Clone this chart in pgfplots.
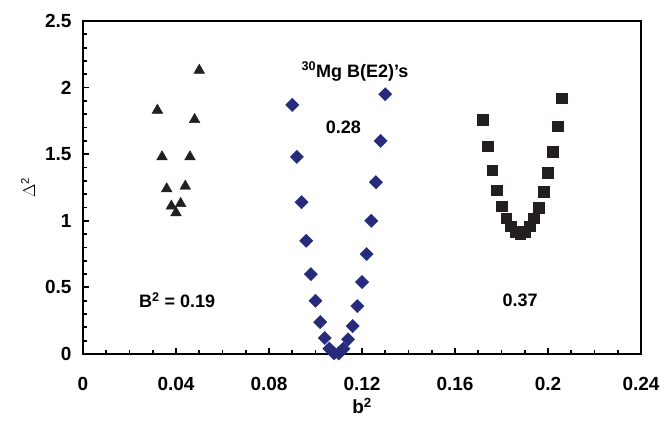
\documentclass[border=0pt]{standalone}
\usepackage{pgfplots}
\pgfplotsset{compat=1.18}
\usepackage{fontspec}
\setmainfont{Liberation Sans}
\definecolor{navy}{RGB}{39,43,124}
\definecolor{ink}{RGB}{35,31,32}
\begin{document}
\begin{tikzpicture}
\path[use as bounding box] (-83pt,-71pt) rectangle (581pt,354pt);
\begin{axis}[
    at={(0,0)}, anchor=south west,
    scale only axis,
    width=558pt, height=333pt,
    xmin=0, xmax=0.24, ymin=0, ymax=2.5,
    xtick={0,0.04,...,0.24},
    xticklabels={0,0.04,0.08,0.12,0.16,0.2,0.24},
    minor x tick num=3,
    ytick={0,0.5,...,2.5},
    yticklabels={0,0.5,1,1.5,2,2.5},
    minor y tick num=4,
    tick align=inside,
    xtick pos=bottom, ytick pos=left,
    major tick length=6pt, minor tick length=4pt,
    every tick/.style={black, line width=1.8pt},
    axis line style={line width=2.6pt, black},
    tick label style={font=\fontsize{19}{22}\selectfont\bfseries, black},
    xticklabel style={yshift=-20pt},
    yticklabel style={xshift=-8pt},
    xlabel={\textbf{b\textsuperscript{2}}},
    xlabel style={font=\fontsize{19}{22}\selectfont, yshift=0pt},
    ylabel={$\Delta$\textsuperscript{2}},
    ylabel style={font=\fontsize{16}{19}\selectfont, yshift=3pt},
    clip=false,
]
% triangles, B^2 = 0.19
\addplot[only marks, mark=triangle*, mark size=6.2pt, color=ink]
    coordinates {
        (0.032,1.83) (0.034,1.48) (0.036,1.24) (0.038,1.11) (0.040,1.06)
        (0.042,1.13) (0.044,1.26) (0.046,1.48) (0.048,1.76) (0.050,2.13)
    };
% diamonds, B^2 = 0.28
\addplot[only marks, mark=square*, mark size=4.7pt, color=navy, mark options={rotate=45}]
    coordinates {
        (0.090,1.87) (0.092,1.48) (0.094,1.14) (0.096,0.85) (0.098,0.60)
        (0.100,0.40) (0.102,0.24) (0.104,0.12) (0.106,0.04) (0.108,0.005)
        (0.110,0.005) (0.112,0.04) (0.114,0.11) (0.116,0.21) (0.118,0.36)
        (0.120,0.54) (0.122,0.75) (0.124,1.00) (0.126,1.29) (0.128,1.60)
        (0.130,1.95)
    };
% squares, B^2 = 0.37
\addplot[only marks, mark=square*, mark size=5.4pt, color=ink]
    coordinates {
        (0.172,1.76) (0.174,1.56) (0.176,1.38) (0.178,1.23) (0.180,1.11)
        (0.182,1.02) (0.184,0.96) (0.186,0.92) (0.188,0.90) (0.190,0.92)
        (0.192,0.96) (0.194,1.02) (0.196,1.10) (0.198,1.22) (0.200,1.36)
        (0.202,1.52) (0.204,1.71) (0.206,1.92)
    };
\node[font=\fontsize{18}{21}\selectfont\bfseries] at (axis cs:0.117,2.12) {\textsuperscript{30}Mg B(E2)'s};
\node[font=\fontsize{18}{21}\selectfont\bfseries] at (axis cs:0.112,1.70) {0.28};
\node[font=\fontsize{18}{21}\selectfont\bfseries] at (axis cs:0.0405,0.405) {B\textsuperscript{2} = 0.19};
\node[font=\fontsize{18}{21}\selectfont\bfseries] at (axis cs:0.188,0.405) {0.37};
\end{axis}
\end{tikzpicture}
\end{document}
